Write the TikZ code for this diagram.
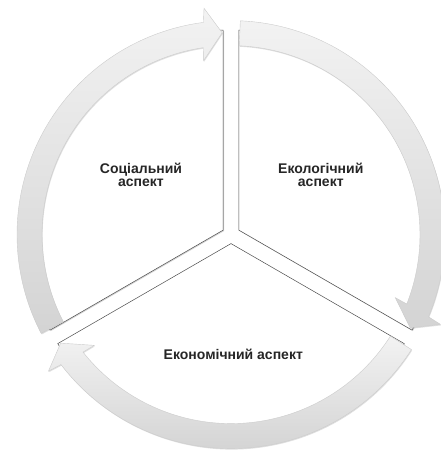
\documentclass[tikz,border=0pt]{standalone}
\usepackage{fontspec}
\setmainfont{Liberation Sans}
\usetikzlibrary{calc,shadows}
\newcommand\cycarrow[1]{%
  \pgfmathsetmacro\cyTail{#1+115}%
  \pgfmathsetmacro\cyHo{#1+4.3}%
  \pgfmathsetmacro\cyHi{#1+6.5}%
  \pgfmathsetmacro\cySo{#1+4.9}%
  \pgfmathsetmacro\cySi{#1+5.95}%
  \path[arrowband] (\cyTail:214) arc[start angle=\cyTail, end angle=\cySo, radius=214]
    -- (\cyHo:228) -- (#1:202) -- (\cyHi:176) -- (\cySi:189)
    arc[start angle=\cySi, end angle=\cyTail, radius=189] -- cycle;%
}
\begin{document}
\begin{tikzpicture}[x=1pt,y=1pt,
  sectorsty/.style={fill=white, draw=black!70, line width=0.5pt,
    drop shadow={shadow xshift=0.8pt, shadow yshift=-1pt, opacity=0.35}},
  arrowband/.style={top color=black!5, bottom color=black!17, draw=black!20, line width=0.4pt,
    drop shadow={shadow xshift=0.6pt, shadow yshift=-1pt, opacity=0.25}},
  lbl/.style={font=\bfseries\fontsize{14}{13.6}\selectfont, text=black!85, align=center, inner sep=0pt}]
\useasboundingbox (0,0) rectangle (440,453);
\coordinate (C) at (231,218.4);
\begin{scope}[shift={(C)}]
  % sectors
  \path[sectorsty] (150:9) -- ++(90:200) arc[start angle=90, end angle=210, radius=200] -- cycle;
  \path[sectorsty] (30:9) -- ++(-30:200) arc[start angle=-30, end angle=90, radius=200] -- cycle;
  \path[sectorsty] (270:9) -- ++(210:200) arc[start angle=210, end angle=330, radius=200] -- cycle;
  % arrows
  \cycarrow{92.5}
  \cycarrow{-27.5}
  \cycarrow{-147.5}
\end{scope}
\node[lbl, anchor=base] (soc) at (141,266.3) {Соціальний\\аспект};
\node[lbl, anchor=base] (eco) at (320.8,266.3) {Екологічний\\аспект};
\node[lbl, anchor=base] (econ) at (233.3,93) {Економічний аспект};
\end{tikzpicture}
\end{document}
